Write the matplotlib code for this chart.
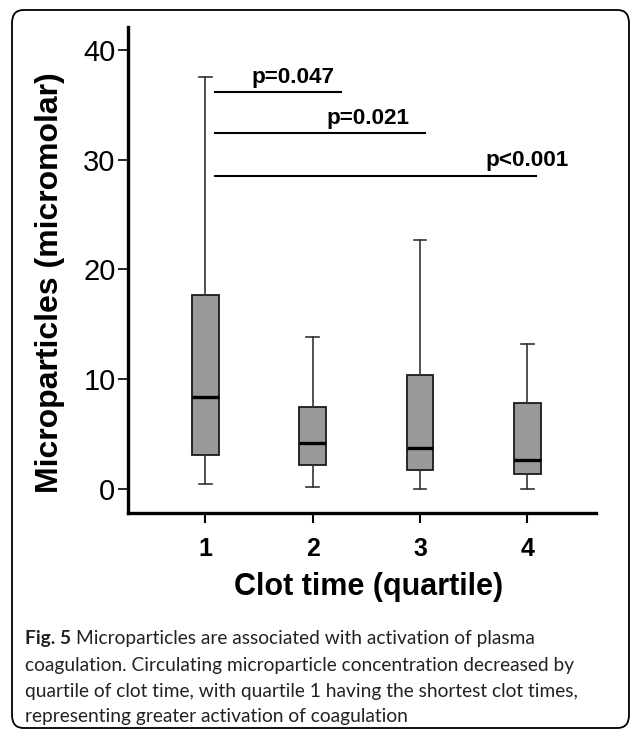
import matplotlib.pyplot as plt
from matplotlib.patches import FancyBboxPatch

# box plot statistics (micromolar)
quartiles = [1, 2, 3, 4]
whisker_lo = [0.45, 0.2, 0.03, 0.03]
q1 = [3.1, 2.15, 1.7, 1.4]
median = [8.4, 4.2, 3.7, 2.65]
q3 = [17.7, 7.5, 10.4, 7.8]
whisker_hi = [37.5, 13.8, 22.7, 13.2]

# significance brackets
sig_from = [1.09, 1.09, 1.09]
sig_to = [2.26, 3.05, 4.08]
sig_y = [36.2, 32.4, 28.5]
sig_text = ["p=0.047", "p=0.021", "p<0.001"]
sig_text_x = [1.82, 2.52, 4.0]
sig_text_y = [37.0, 33.25, 29.4]

caption_head = "Fig. 5"
caption_lines = [
    "Microparticles are associated with activation of plasma",
    "coagulation. Circulating microparticle concentration decreased by",
    "quartile of clot time, with quartile 1 having the shortest clot times,",
    "representing greater activation of coagulation",
]

plt.rcParams['font.family'] = ['Liberation Sans', 'DejaVu Sans']
cap_font = ['Lato', 'DejaVu Sans']

W, H = 636, 731
fig = plt.figure(figsize=(W / 100, H / 100), dpi=100)
ax = fig.add_axes([128 / W, 1 - 513 / H, (596 - 128) / W, (513 - 27) / H])

stats = []
for i in range(len(quartiles)):
    stats.append(dict(whislo=whisker_lo[i], q1=q1[i], med=median[i],
                      q3=q3[i], whishi=whisker_hi[i], fliers=[]))

ax.bxp(stats, positions=quartiles, widths=0.25, patch_artist=True,
       boxprops=dict(facecolor="#999999", edgecolor="#1a1a1a", linewidth=1.3),
       medianprops=dict(color="black", linewidth=2.4),
       whiskerprops=dict(color="#333333", linewidth=1.2),
       capprops=dict(color="#333333", linewidth=1.2),
       capwidths=0.12, showfliers=False)

for x0, x1, y, t, tx, ty in zip(sig_from, sig_to, sig_y, sig_text, sig_text_x, sig_text_y):
    ax.plot([x0, x1], [y, y], color="black", linewidth=1.5)
    ax.text(tx, ty, t, ha="center", va="baseline", fontsize=16.2, fontweight="bold")

ax.set_xlim(0.28, 4.64)
ax.set_ylim(-2.2, 42.1)
ax.set_yticks([0, 10, 20, 30, 40])
ax.set_xticks(quartiles)
ax.set_xticklabels([str(q) for q in quartiles], fontweight="bold")
ax.tick_params(axis="y", labelsize=21, length=7, width=1.2, pad=2)
ax.tick_params(axis="x", labelsize=18, length=7, width=1.5, pad=10)
for s in ["top", "right"]:
    ax.spines[s].set_visible(False)
for s in ["left", "bottom"]:
    ax.spines[s].set_linewidth(2.4)

ax.set_xlabel("Clot time (quartile)", fontsize=22, fontweight="bold")
ax.set_ylabel("Microparticles (micromolar)", fontsize=23, fontweight="bold")
ax.xaxis.set_label_coords(0.513, -0.122)
ax.yaxis.set_label_coords(-0.135, 0.475)

# rounded frame around figure and caption
frame = FancyBboxPatch((12 / W, 3 / H), (629 - 12) / W, (721 - 3) / H,
                       boxstyle="round,pad=0,rounding_size=0.018",
                       transform=fig.transFigure, fill=False,
                       edgecolor="black", linewidth=1.3)
fig.patches.append(frame)

# caption
renderer = fig.canvas.get_renderer()
baselines = [644, 671, 697, 722]
x0 = 25
txts = []
head = fig.text(x0 / W, 1 - baselines[0] / H, caption_head, ha="left", va="baseline",
                fontsize=14, fontweight="bold", family=cap_font, color="#222222")
for line, yb in zip(caption_lines, baselines):
    t = fig.text(x0 / W, 1 - yb / H, line, ha="left", va="baseline",
                 fontsize=14, family=cap_font, color="#222222")
    txts.append(t)
# fit caption width to the reference (line 2 is about 550 px wide)
w = txts[1].get_window_extent(renderer).width
size = 14 * 552 / w
head.set_fontsize(size)
for t in txts:
    t.set_fontsize(size)
hw = head.get_window_extent(renderer).width
txts[0].set_x((x0 + hw + 0.28 * size * 100 / 72) / W)

fig.savefig("out.png", dpi=100)
